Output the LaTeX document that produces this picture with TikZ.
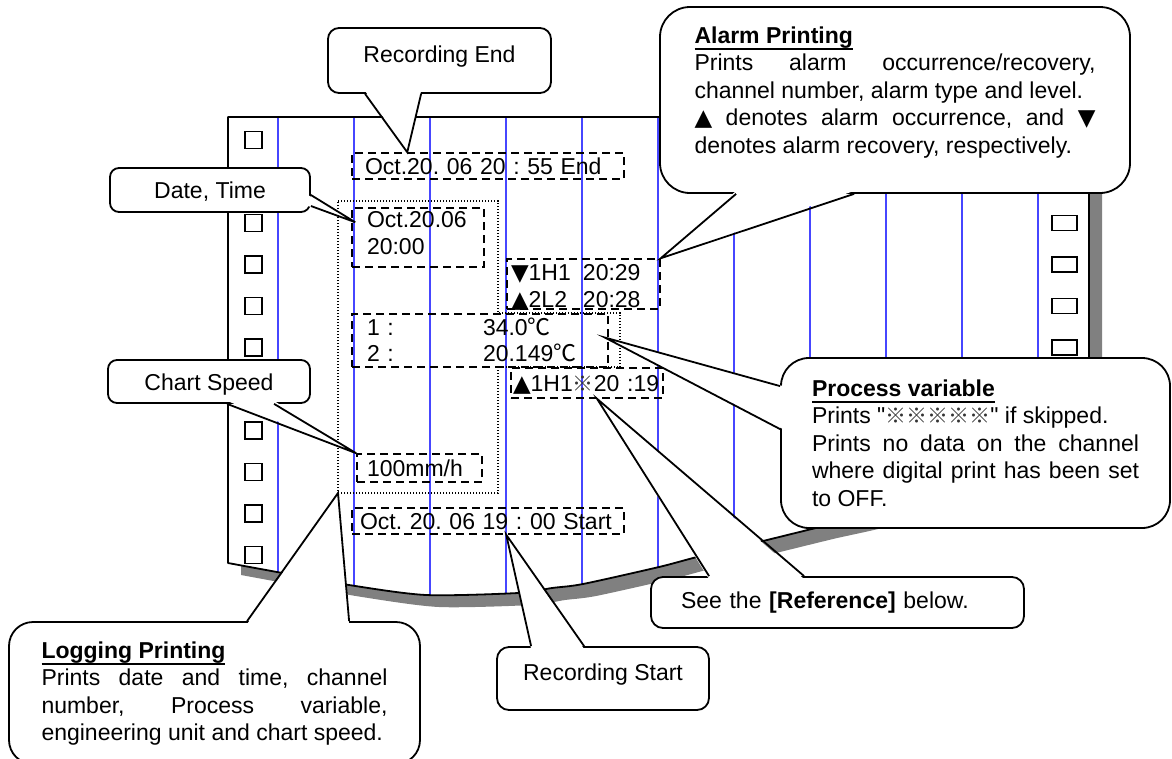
\documentclass[tikz,border=0pt]{standalone}
\usepackage{fontspec}
\setmainfont{Liberation Sans}
\newfontfamily\plainfont{Liberation Sans}
\newfontfamily\markfont{DejaVu Sans}
\newfontfamily\cjk{Noto Sans CJK SC}
\usepackage{xcolor}
\usepackage{tikz}
\usetikzlibrary{calc}
\definecolor{FeedBlue}{RGB}{70,70,255}
\definecolor{ShadowGray}{RGB}{128,128,128}
\frenchspacing

\newcommand{\almup}{{\markfont ▲}}
\newcommand{\almdn}{{\markfont ▼}}
\newcommand{\degc}{{\cjk ℃}}
\newcommand{\skipmark}{{\cjk\fontsize{21}{27.5}\selectfont\color{black!80}※}}
\newcommand{\notehead}[1]{\setbox0=\hbox{\bfseries #1}\rlap{\rule[-6.5pt]{\wd0}{1.8pt}}\box0}
\newcommand{\chartpaper}{(228,117) -- (1089,117) -- (1089,450) -- plot[smooth,tension=0.45] coordinates {(1089,450) (900,508) (820,527) (767,540) (697,557) (659,567) (583,584) (552,588) (518,593) (426,595) (349,585) (277,572) (228,563)} -- cycle}

\tikzset{
  note/.style={draw, fill=white, line width=1.8pt, inner sep=0pt, align=center},
  noteline/.style={line width=1.8pt},
  printbox/.style={draw, line width=1.5pt, dash pattern=on 8pt off 5pt, inner ysep=0pt, align=left},
  oneline/.style={text height=17pt, text depth=1pt},
  logarea/.style={line width=1.2pt, dash pattern=on 1.2pt off 1.8pt},
  feed/.style={FeedBlue, line width=1.1pt},
  hole/.style={line width=1.6pt},
}

\begin{document}
\begin{tikzpicture}[x=1pt, y=-1pt, font=\fontsize{23}{27.5}\selectfont]
\useasboundingbox (0,0) rectangle (1172,758);

% chart paper and its shadow
\fill[ShadowGray, shift={(13,12)}] \chartpaper;
\fill[white] \chartpaper;
\begin{scope}
  \clip \chartpaper;
  \foreach \x in {278,354,...,1038}
    \draw[feed] (\x,117) -- (\x,620);
\end{scope}
\draw[line width=1.8pt, line join=round] \chartpaper;
\foreach \k in {0,...,10}
  \draw[hole] (245,{131.5+41.5*\k}) rectangle ++(17,17);
\foreach \k in {0,...,8}
  \draw[hole] (1052,{132.5+41.5*\k}) rectangle ++(25,15);

% logging area
\draw[logarea] (338,201) -- (498,201) -- (498,313) -- (620,313) -- (620,367)
  -- (498,367) -- (498,493) -- (338,493) coordinate (logsw) -- cycle;

% printed records
\node[printbox, oneline, text width=246pt, inner xsep=13pt, minimum height=26pt] (endbox) at (488,166) {Oct.20. 06 20 : 55 End};
\node[printbox, text width=102pt, inner xsep=15pt, minimum height=59pt, text height=17pt, text depth=38pt] (datebox) at (418,237.5) {Oct.20.06\\20:00};
\node[printbox, text width=145pt, inner xsep=4pt, minimum height=50pt, text height=17pt, text depth=25pt] (alarmbox) at (583.5,284)
  {\makebox[72pt][l]{\almdn1H1}20:29\\\makebox[72pt][l]{\almup2L2}20:28};
\node[printbox, text width=226pt, inner xsep=15pt, minimum height=53pt, text height=17pt, text depth=28pt] (pvbox) at (480,340.5)
  {\makebox[116pt][l]{1 :}34.0\degc\\[-1pt]\makebox[116pt][l]{2 :}20.149\degc};
\node[printbox, oneline, text width=148pt, inner xsep=2pt, minimum height=30pt] (skipbox) at (587,383) {\mbox{\almup1H1\skipmark20 :19}};
\node[printbox, oneline, text width=105pt, inner xsep=10pt, minimum height=28pt] (speedbox) at (419.5,468) {100mm/h};
\node[printbox, oneline, text width=256pt, inner xsep=8pt, minimum height=26pt] (startbox) at (488,521) {Oct. 20. 06 19 : 00 Start};

% callouts
\node[note, rounded corners=11pt, minimum width=223pt, minimum height=65pt, text height=17pt, text depth=13pt] (endnote) at (439.5,60.5) {Recording End};
\fill[white] ($(endnote.south west)+(38,-3)$) -- ($(endbox.north west)+(56,0)$) -- ($(endnote.south west)+(94,-3)$) -- cycle;
\draw[noteline] ($(endnote.south west)+(38,0)$) -- ($(endbox.north west)+(56,0)$) -- ($(endnote.south west)+(94,0)$);

\node[note, rounded corners=9pt, minimum width=200pt, minimum height=44pt, text height=17pt, text depth=1pt] (datenote) at (210,190) {Date, Time};
\fill[white] ($(datenote.east)+(-3,5)$) -- ($(datebox.north west)+(4,15)$) -- ($(datenote.east)+(-3,16)$) -- cycle;
\draw[noteline] ($(datenote.east)+(0,5)$) -- ($(datebox.north west)+(4,15)$) -- ($(datenote.east)+(0,16)$);

\node[note, rounded corners=9pt, minimum width=202pt, minimum height=43pt, text height=17pt, text depth=0pt] (speednote) at (209,381.5) {Chart Speed};
\fill[white] ($(speednote.south west)+(120,-3)$) -- (speedbox.north west) -- ($(speednote.south west)+(167,-3)$) -- cycle;
\draw[noteline] ($(speednote.south west)+(120,0)$) -- (speedbox.north west) -- ($(speednote.south west)+(167,0)$);

\node[note, rounded corners=30pt, minimum width=470pt, minimum height=186pt, text width=401pt, align=justify, text height=17pt, text depth=131pt] (alarmnote) at (895,100)
  {\notehead{Alarm Printing}\\
   Prints alarm occurrence/recovery,\linebreak channel number, alarm type and level.\\
   \almup{} denotes alarm occurrence, and \almdn\linebreak denotes alarm recovery, respectively.};
\fill[white] ($(alarmnote.south west)+(77,-3)$) -- (alarmbox.north east) -- ($(alarmnote.south west)+(195,-3)$) -- cycle;
\draw[noteline] ($(alarmnote.south west)+(77,0)$) -- (alarmbox.north east) -- ($(alarmnote.south west)+(195,0)$);

\node[note, rounded corners=28pt, minimum width=389pt, minimum height=170pt, text width=327pt, align=justify, text height=17pt, text depth=111pt] (pvnote) at (975.5,443)
  {\notehead{Process variable}\\
   Prints {\plainfont"}\skipmark\skipmark\skipmark\skipmark\skipmark{\plainfont"} if skipped.\\
   Prints no data on the channel\linebreak where digital print has been set\linebreak to OFF.};
\fill[white] ($(pvnote.north west)+(3,29)$) -- ($(pvbox.east)+(-4,-3)$) -- ($(pvnote.north west)+(3,72)$) -- cycle;
\draw[noteline] ($(pvnote.north west)+(0,29)$) -- ($(pvbox.east)+(-4,-3)$) -- ($(pvnote.north west)+(0,72)$);

\node[note, rounded corners=12pt, minimum width=373pt, minimum height=51pt, text width=313pt, align=left, text height=17pt, text depth=6pt] (refnote) at (837.5,602.5)
  {See the \textbf{[Reference]} below.};
\fill[white] ($(refnote.north west)+(59,3)$) -- ($(skipbox.south)+(10,0)$) -- ($(refnote.north west)+(154,3)$) -- cycle;
\draw[noteline] ($(refnote.north west)+(59,0)$) -- ($(skipbox.south)+(10,0)$) -- ($(refnote.north west)+(154,0)$);

\node[note, rounded corners=12pt, minimum width=212pt, minimum height=63pt, text height=17pt, text depth=14pt] (startnote) at (603,678.5) {Recording Start};
\fill[white] ($(startnote.north west)+(35,3)$) -- ($(startbox.south west)+(155,0)$) -- ($(startnote.north west)+(88,3)$) -- cycle;
\draw[noteline] ($(startnote.north west)+(35,0)$) -- ($(startbox.south west)+(155,0)$) -- ($(startnote.north west)+(88,0)$);

\node[note, rounded corners=24pt, minimum width=411pt, minimum height=142pt, text width=346pt, align=justify, text height=17pt, text depth=87pt] (lognote) at (214.5,693)
  {\notehead{Logging Printing}\\
   Prints date and time, channel\linebreak number, Process variable,\linebreak engineering unit and chart speed.};
\fill[white] ($(lognote.north west)+(239,3)$) -- (logsw) -- ($(lognote.north west)+(341,3)$) -- cycle;
\draw[noteline] ($(lognote.north west)+(239,0)$) -- (logsw) -- ($(lognote.north west)+(341,0)$);
\end{tikzpicture}
\end{document}
